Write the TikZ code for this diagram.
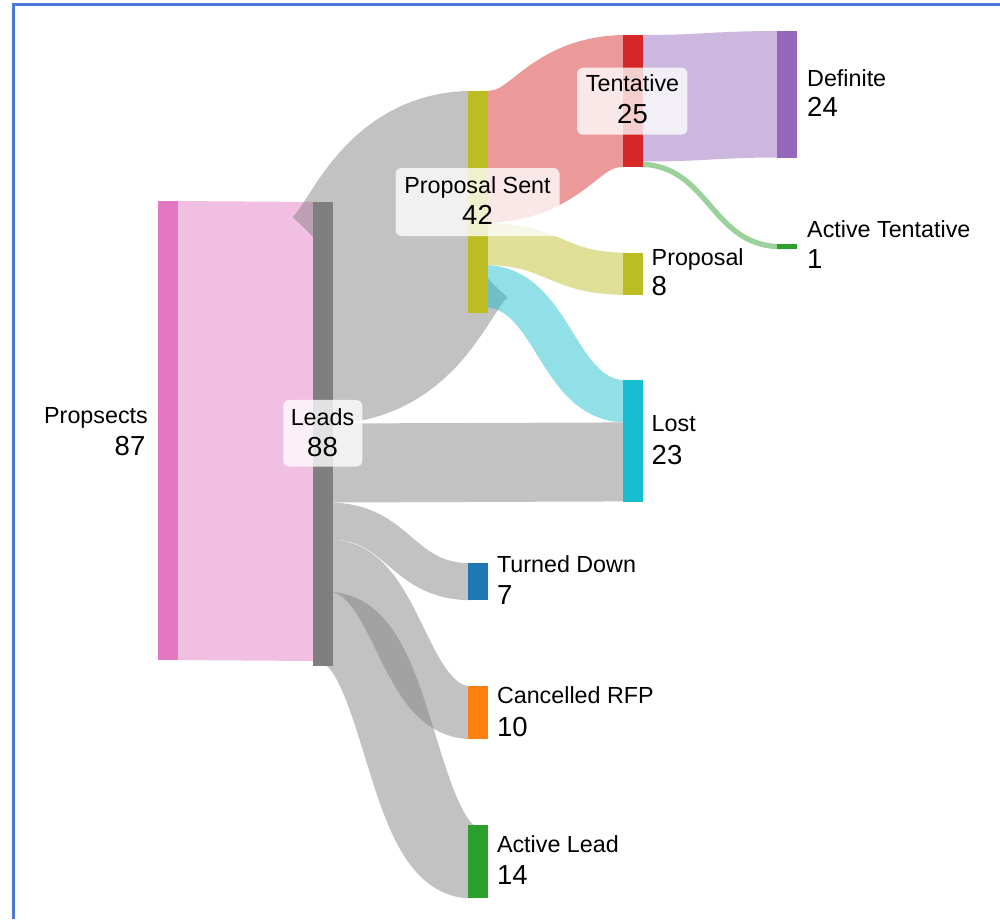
\documentclass[tikz,border=0pt]{standalone}
\usepackage{fontspec}
\setmainfont{Liberation Sans}
\definecolor{cpink}{HTML}{E377C2}
\definecolor{cgray}{HTML}{7F7F7F}
\definecolor{colive}{HTML}{BCBD22}
\definecolor{cred}{HTML}{D62728}
\definecolor{cpurple}{HTML}{9467BD}
\definecolor{cgreen}{HTML}{2CA02C}
\definecolor{ccyan}{HTML}{17BECF}
\definecolor{cblue}{HTML}{1F77B4}
\definecolor{corange}{HTML}{FF7F0E}
\definecolor{cframe}{RGB}{74,122,214}
\begin{document}
\begin{tikzpicture}[x=1pt,y=-1pt,
  sknode/.style={rectangle, inner sep=0pt, outer sep=0pt, minimum width=20pt},
  flow/.style={draw opacity=0.47, line cap=butt, shorten <=-4pt, shorten >=-4pt},
  lblbox/.style={rectangle, rounded corners=6pt, fill=white, fill opacity=0.78, inner sep=0pt},
  lname/.style={inner sep=0pt, font=\fontsize{23.3}{28}\selectfont},
  lval/.style={inner sep=0pt, font=\fontsize{27.5}{32}\selectfont}]
\useasboundingbox (0,0) rectangle (1000,919);
\fill[white] (0,0) rectangle (1000,919);
% frame
\draw[cframe, line width=2.2pt] (13.5,919) -- (13.5,4.5) -- (1000,4.5);

% link end points
\coordinate (f1a) at (178,430.5);   \coordinate (f1b) at (312.5,431.5);
\coordinate (f2a) at (332.5,312.75); \coordinate (f2b) at (467.5,201.75);
\coordinate (f3a) at (332.5,463);    \coordinate (f3b) at (622.5,461.9);
\coordinate (f4a) at (332.5,520.95); \coordinate (f4b) at (467.5,581.75);
\coordinate (f5a) at (332.5,565.75); \coordinate (f5b) at (467.5,712.65);
\coordinate (f6a) at (332.5,629.05); \coordinate (f6b) at (467.5,861.4);
\coordinate (f7a) at (487.5,156.9);  \coordinate (f7b) at (622.5,100.9);
\coordinate (f8a) at (487.5,243.9);  \coordinate (f8b) at (622.5,273.8);
\coordinate (f9a) at (487.5,286.1);  \coordinate (f9b) at (622.5,401.4);
\coordinate (f10a) at (642.5,98.25); \coordinate (f10b) at (777.3,94.25);
\coordinate (f11a) at (642.5,164.15); \coordinate (f11b) at (777.3,246.65);

% links
\draw[flow, cpink, line width=459pt] (f1a) .. controls +(67.25,0) and +(-67.25,0) .. (f1b);
\draw[flow, cgray, line width=221.5pt] (f2a) .. controls +(67.5,0) and +(-67.5,0) .. (f2b);
\draw[flow, cgray, line width=79pt] (f3a) .. controls +(145,0) and +(-145,0) .. (f3b);
\draw[flow, cgray, line width=36.9pt] (f4a) .. controls +(67.5,0) and +(-67.5,0) .. (f4b);
\draw[flow, cgray, line width=52.7pt] (f5a) .. controls +(67.5,0) and +(-67.5,0) .. (f5b);
\draw[flow, cgray, line width=73.9pt] (f6a) .. controls +(67.5,0) and +(-67.5,0) .. (f6b);
\draw[flow, cred, line width=131.8pt] (f7a) .. controls +(67.5,0) and +(-67.5,0) .. (f7b);
\draw[flow, colive, line width=42.2pt] (f8a) .. controls +(67.5,0) and +(-67.5,0) .. (f8b);
\draw[flow, ccyan, line width=42.2pt] (f9a) .. controls +(67.5,0) and +(-67.5,0) .. (f9b);
\draw[flow, cpurple, line width=126.5pt] (f10a) .. controls +(67.4,0) and +(-67.4,0) .. (f10b);
\draw[flow, cgreen, line width=5.3pt] (f11a) .. controls +(67.4,0) and +(-67.4,0) .. (f11b);

% nodes
\node[sknode, fill=cpink, minimum height=459pt] (prosp) at (168,430.5) {};
\node[sknode, fill=cgray, minimum height=464pt] (leads) at (322.5,434) {};
\node[sknode, fill=colive, minimum height=222pt] (psent) at (477.5,202) {};
\node[sknode, fill=cred, minimum height=131.8pt] (tent) at (632.5,100.9) {};
\node[sknode, fill=cpurple, minimum width=19.6pt, minimum height=126.5pt] (defin) at (787.1,94.25) {};
\node[sknode, fill=cgreen, minimum width=19.6pt, minimum height=5.3pt] (acttent) at (787.1,246.65) {};
\node[sknode, fill=colive, minimum height=42.2pt] (prop) at (632.5,273.8) {};
\node[sknode, fill=ccyan, minimum height=121.4pt] (lost) at (632.5,441) {};
\node[sknode, fill=cblue, minimum height=36.9pt] (turned) at (477.5,581.75) {};
\node[sknode, fill=corange, minimum height=52.7pt] (cancel) at (477.5,712.65) {};
\node[sknode, fill=cgreen, minimum height=73.8pt] (actlead) at (477.5,861.4) {};

% label boxes
\node[lblbox, minimum width=79pt, minimum height=66.7pt] (leadsbox) at (322.8,433.3) {};
\node[lblbox, minimum width=164pt, minimum height=68pt] (psentbox) at (477.5,202) {};
\node[lblbox, minimum width=110.4pt, minimum height=67pt] (tentbox) at (632.2,101.2) {};

% labels
\node[lname, anchor=base east] (prospn) at (148,423) {Propsects};
\node[lval, anchor=base east] (prospv) at (145.5,455) {87};
\node[lname, anchor=base] (leadsn) at (322.5,425) {Leads};
\node[lval, anchor=base] (leadsv) at (322.5,456) {88};
\node[lname, anchor=base] (psentn) at (477.5,193.3) {Proposal Sent};
\node[lval, anchor=base] (psentv) at (477.5,224) {42};
\node[lname, anchor=base] (tentn) at (632.5,91.7) {Tentative};
\node[lval, anchor=base] (tentv) at (632.5,123.3) {25};
\node[lname, anchor=base west] (definn) at (807,86.7) {Definite};
\node[lval, anchor=base west] (definv) at (807,116.7) {24};
\node[lname, anchor=base west] (acttentn) at (807,237.7) {Active Tentative};
\node[lval, anchor=base west] (acttentv) at (807,268.3) {1};
\node[lname, anchor=base west] (propn) at (651.5,265) {Proposal};
\node[lval, anchor=base west] (propv) at (651.5,295.7) {8};
\node[lname, anchor=base west] (lostn) at (651.5,431.7) {Lost};
\node[lval, anchor=base west] (lostv) at (651.5,464) {23};
\node[lname, anchor=base west] (turnedn) at (496.8,572.7) {Turned Down};
\node[lval, anchor=base west] (turnedv) at (496.8,604.3) {7};
\node[lname, anchor=base west] (canceln) at (496.8,703.3) {Cancelled RFP};
\node[lval, anchor=base west] (cancelv) at (496.8,736) {10};
\node[lname, anchor=base west] (actleadn) at (496.8,852.3) {Active Lead};
\node[lval, anchor=base west] (actleadv) at (496.8,884) {14};
\end{tikzpicture}
\end{document}
